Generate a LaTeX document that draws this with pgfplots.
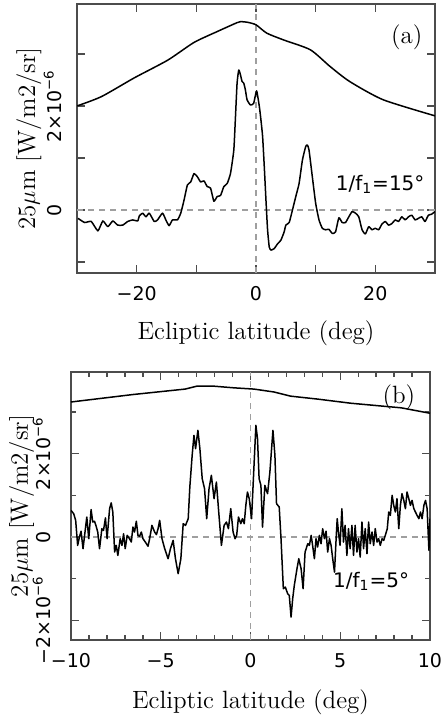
\documentclass[border=0pt]{standalone}
\usepackage{fontspec}
\usepackage{pgfplots}
\pgfplotsset{compat=1.18}
\newfontfamily\dejavu{DejaVu Sans}
\newcommand{\tickfont}{\dejavu\fontsize{9.5}{11}\selectfont}
\newcommand{\annfont}{\dejavu\fontsize{10}{12}\selectfont}
\newcommand{\labfont}{\fontsize{12.5}{14}\selectfont}
\pgfplotsset{
  commonstyle/.style={
    scale only axis,
    axis line style={black!70, line width=0.9pt},
    every tick/.style={black!70, line width=0.7pt},
    tick align=inside,
    xtick pos=both, ytick pos=both,
    xticklabel pos=lower, yticklabel pos=left,
    ticklabel style={font=\tickfont},
    /pgf/number format/assume math mode=true,
    xticklabel style={inner sep=0pt, yshift=-6.5pt, anchor=north},
    label style={font=\labfont},
    xlabel={Ecliptic latitude (deg)},
    ylabel={25$\mu$m [W/m2/sr]},
    clip=true,
  },
  zeroline/.style={gray!75, line width=0.6pt, dash pattern=on 3pt off 2.5pt},
  sig/.style={black, line width=0.75pt, line join=round},
}
\begin{document}
\begin{tikzpicture}
\path[use as bounding box] (0,0) rectangle (221.5pt,358pt);
% ---------------- panel (a) ----------------
\begin{axis}[commonstyle,
  at={(38.5pt,221.5pt)}, anchor=south west,
  width=179pt, height=134.5pt,
  xmin=-30, xmax=30, ymin=-1.21, ymax=3.96,
  xtick={-20,0,20}, xticklabels={−20,0,20},
  minor xtick={-30,-10,10,30},
  ytick={0,2}, yticklabels={0,2×10\textsuperscript{−6}},
  minor ytick={-1,1,3},
  major tick length=4pt, minor tick length=4pt,
  yticklabel style={rotate=90, anchor=south, inner sep=0pt, yshift=7.5pt},
  xlabel style={at={(axis description cs:0.5,-0.249)}, anchor=base},
  ylabel style={at={(axis description cs:-0.117,0.5)}, anchor=base},
]
\addplot[zeroline] coordinates {(-30,0) (30,0)};
\addplot[zeroline] coordinates {(0,-1.21) (0,3.96)};
\addplot[sig, smooth, tension=0.4] coordinates {
(-30,2.0) (-25.9,2.18) (-20.4,2.54) (-14.8,2.88) (-10.4,3.22) (-6.5,3.43)
(-3.2,3.6) (-2.6,3.62) (-1.5,3.61) (0,3.56) (1.8,3.40) (4.6,3.27) (9.1,3.08)
(12.4,2.76) (15.7,2.47) (21.3,2.12) (30,1.81)};
\addplot[sig, smooth, tension=0.3] coordinates {
(-29.83,-0.16) (-28.72,-0.24) (-27.61,-0.22) (-26.5,-0.40) (-25.67,-0.21)
(-24.83,-0.32) (-24.0,-0.21) (-23.17,-0.29) (-22.33,-0.29) (-21.5,-0.22)
(-20.67,-0.19) (-19.83,-0.21) (-19.56,-0.115) (-19.0,-0.06) (-18.44,-0.13)
(-17.89,-0.06) (-17.06,-0.22) (-16.5,-0.19) (-15.67,-0.06) (-15.11,-0.19)
(-14.56,-0.30) (-14.0,-0.19) (-13.17,-0.19) (-12.61,-0.06) (-12.06,0.19)
(-11.5,0.48) (-10.94,0.54) (-10.39,0.70) (-9.83,0.64) (-9.28,0.54)
(-8.72,0.56) (-8.17,0.45) (-7.61,0.42) (-7.06,0.17) (-6.5,0.26) (-5.94,0.28)
(-5.39,0.45) (-4.83,0.51) (-4.28,0.70) (-3.72,1.15) (-3.44,1.79) (-3.17,2.44)
(-2.89,2.69) (-2.61,2.60) (-2.33,2.47) (-2.06,2.44) (-1.78,2.31) (-1.5,2.12)
(-0.94,2.02) (-0.39,2.05) (0.1,2.29) (0.56,1.99) (0.83,1.73) (1.11,1.41)
(1.39,0.83) (1.67,0.19) (1.94,-0.38) (2.22,-0.71) (2.5,-0.77) (3.06,-0.74)
(3.61,-0.65) (4.17,-0.58) (4.72,-0.42) (5.0,-0.29) (5.56,-0.24) (6.11,0.0)
(6.67,0.26) (7.22,0.51) (7.78,0.96) (8.33,1.22) (8.61,1.25) (8.89,1.15)
(9.44,0.64) (10.0,0.13) (10.56,-0.19) (11.11,-0.35) (11.67,-0.38)
(12.22,-0.37) (12.78,-0.45) (13.33,-0.42) (13.89,-0.15) (14.44,-0.24)
(15.0,-0.24) (15.56,-0.13) (16.11,-0.03) (16.67,-0.06) (17.22,-0.13)
(17.78,-0.38) (18.33,-0.46) (18.89,-0.32) (19.44,-0.38) (20.0,-0.35)
(20.56,-0.38) (21.11,-0.27) (21.67,-0.22) (22.22,-0.29) (22.78,-0.26)
(23.33,-0.19) (23.89,-0.22) (24.44,-0.13) (25.0,-0.19) (25.56,-0.13)
(26.11,-0.10) (26.67,-0.19) (27.22,-0.16) (27.78,-0.13) (28.33,-0.22)
(28.89,-0.10) (29.44,-0.08) (30.0,-0.03)};
\node[anchor=north east, font=\labfont, inner sep=0pt] at (rel axis cs:0.966,0.925) {(a)};
\node[anchor=base east, font=\annfont, inner sep=0pt] at (axis cs:28.3,0.38) {1/f\textsubscript{1}=15°};
\end{axis}
% ---------------- panel (b) ----------------
\begin{axis}[commonstyle,
  at={(35.5pt,38pt)}, anchor=south west,
  width=179.5pt, height=134pt,
  xmin=-10, xmax=10, ymin=-2.47, ymax=3.96,
  xtick={-10,-5,0,5,10}, xticklabels={−10,−5,0,5,10},
  minor xtick={-9,-8,-7,-6,-4,-3,-2,-1,1,2,3,4,6,7,8,9},
  ytick={-2,0,2}, yticklabels={−2×10\textsuperscript{−6},0,2×10\textsuperscript{−6}},
  minor ytick={-1,1,3},
  major tick length=4pt, minor tick length=2.5pt,
  yticklabel style={rotate=90, anchor=south, inner sep=0pt, yshift=10pt},
  xlabel style={at={(axis description cs:0.5,-0.254)}, anchor=base},
  ylabel style={at={(axis description cs:-0.12,0.5)}, anchor=base},
]
\addplot[zeroline] coordinates {(-10,0) (10,0)};
\addplot[zeroline] coordinates {(0,-2.47) (0,3.96)};
\addplot[sig] coordinates {
(-10,3.24) (-6.53,3.42) (-3.64,3.55) (-2.99,3.62) (-2.05,3.62) (-0.93,3.58)
(0.19,3.55) (1.31,3.48) (2.24,3.38) (3.73,3.31) (5.6,3.21) (8.4,3.10) (10,2.97)};
\addplot[sig] coordinates {
(-10,0.64) (-9.85,0.56) (-9.74,0.40) (-9.63,-0.20) (-9.53,0.0) (-9.44,0.14)
(-9.33,-0.28) (-9.22,0.12) (-9.12,0.48) (-9.01,-0.04) (-8.88,0.66) (-8.79,0.36)
(-8.69,0.38) (-8.60,0.26) (-8.51,0.12) (-8.41,-0.28) (-8.28,0.20) (-8.19,0.16)
(-8.08,0.46) (-7.99,-0.04) (-7.85,0.68) (-7.76,0.82) (-7.67,0.60) (-7.57,-0.36)
(-7.48,-0.20) (-7.39,-0.44) (-7.26,-0.04) (-7.16,-0.20) (-7.07,0.08)
(-6.98,-0.28) (-6.87,0.04) (-6.74,-0.04) (-6.64,-0.12) (-6.55,0.24)
(-6.46,0.12) (-6.36,0.38) (-6.27,0.04) (-6.18,0.02) (-6.08,0.12) (-5.99,-0.04)
(-5.86,-0.12) (-5.71,-0.22) (-5.62,-0.04) (-5.49,0.28) (-5.34,0.12)
(-5.24,0.06) (-5.15,0.20) (-5.06,0.40) (-4.93,-0.04) (-4.78,-0.28)
(-4.59,-0.52) (-4.46,-0.28) (-4.31,-0.08) (-4.18,-0.52) (-4.03,-0.88)
(-3.88,-0.52) (-3.75,0.32) (-3.62,0.28) (-3.47,0.44) (-3.38,1.2)
(-3.25,1.96) (-3.15,2.44) (-3.06,2.12) (-2.93,2.56) (-2.82,2.12) (-2.69,1.40)
(-2.56,1.16) (-2.44,0.44) (-2.31,1.16) (-2.18,1.48) (-2.03,0.92) (-1.90,1.32)
(-1.77,0.60) (-1.62,-0.20) (-1.47,0.28) (-1.34,0.36) (-1.23,0.20) (-1.10,0.68)
(-0.97,0.12) (-0.86,-0.04) (-0.77,0.04) (-0.67,0.48) (-0.54,0.32) (-0.45,0.44)
(-0.35,0.32) (-0.26,0.76) (-0.17,1.08) (-0.07,0.92) (0.06,0.44) (0.17,1.48)
(0.30,2.68) (0.39,2.36) (0.48,1.40) (0.58,1.24) (0.67,0.24) (0.80,1.24)
(0.95,1.04) (1.08,1.56) (1.25,2.56) (1.36,1.96) (1.45,0.80) (1.60,0.72)
(1.70,-0.04) (1.83,-1.24) (1.94,-1.20) (2.07,-1.36) (2.16,-1.40) (2.26,-1.92)
(2.35,-1.48) (2.44,-1.16) (2.59,-0.76) (2.69,-0.52) (2.82,-0.76) (2.93,-1.24)
(3.04,-0.36) (3.19,-0.16) (3.28,-0.20) (3.38,0.04)
(3.46,-0.20) (3.56,-0.52) (3.65,-0.04) (3.74,-0.24) (3.84,0.04) (3.93,-0.16)
(4.02,0.20) (4.12,-0.04) (4.21,0.14) (4.30,-0.36) (4.40,-0.04) (4.49,-0.20)
(4.58,-0.52) (4.68,-0.84) (4.77,-0.04) (4.83,0.44) (4.90,0.12) (4.99,-0.20)
(5.09,0.68) (5.18,-0.12) (5.27,0.28) (5.37,-0.44) (5.46,0.20) (5.55,-0.28)
(5.65,0.28) (5.74,-0.44) (5.83,0.28) (5.93,-0.36) (6.02,-0.04) (6.11,-0.48)
(6.21,0.36) (6.30,-0.28) (6.39,0.20) (6.49,-0.40) (6.58,0.36) (6.67,-0.16)
(6.77,0.12) (6.86,-0.20) (6.95,0.20) (7.05,-0.12) (7.14,-0.04) (7.23,-0.20)
(7.33,-0.04) (7.42,-0.08) (7.51,0.04) (7.62,0.20) (7.70,0.60) (7.79,0.52)
(7.89,1.00) (7.98,0.76) (8.07,0.60) (8.16,0.92) (8.26,0.20) (8.35,0.76)
(8.44,1.04) (8.54,0.88) (8.63,0.68) (8.72,1.08) (8.82,0.92) (8.91,0.76)
(9.00,0.88) (9.10,0.68) (9.19,0.60) (9.28,0.52) (9.38,0.44) (9.47,0.60)
(9.56,0.44) (9.66,0.76) (9.75,0.88) (9.84,0.68) (9.94,-0.32) (10.0,0.44)};
\node[anchor=north east, font=\labfont, inner sep=0pt] at (rel axis cs:0.96,0.955) {(b)};
\node[anchor=base east, font=\annfont, inner sep=0pt] at (axis cs:8.86,-1.2) {1/f\textsubscript{1}=5°};
\end{axis}
\end{tikzpicture}
\end{document}
